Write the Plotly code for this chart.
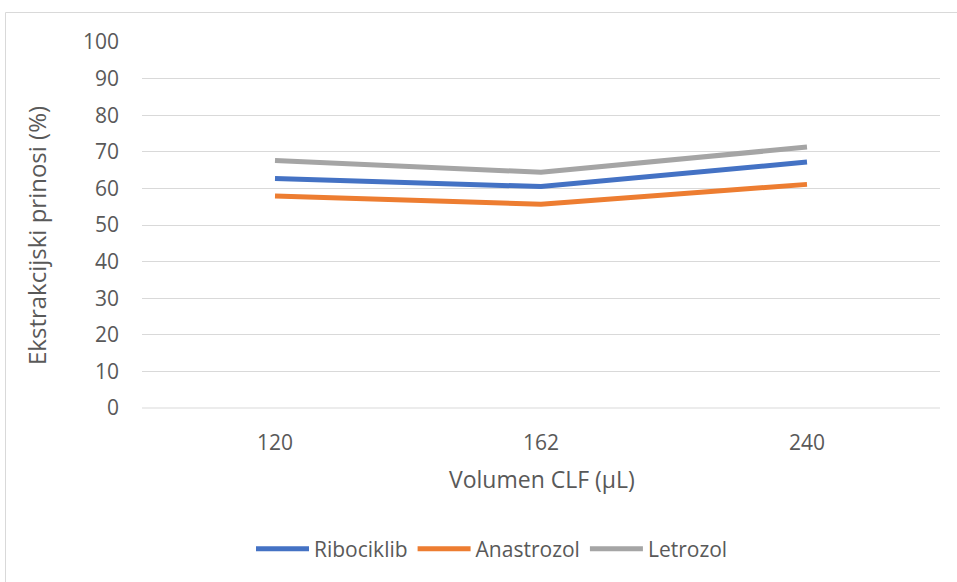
import plotly.graph_objects as go

# Volume of CLF (µL) and extraction yields (%) for each analyte
volumes = ["120", "162", "240"]
ribociklib = [62.7, 60.5, 67.2]
anastrozol = [57.9, 55.7, 61.1]
letrozol = [67.6, 64.4, 71.3]

W, H = 957, 582
L, R, T, B = 142, 17, 42, 174
PW, PH = W - L - R, H - T - B


def px_x(p):
    return (p - L) / PW


def px_y(p):
    return (H - B - p) / PH


FONT = "Open Sans"
TXT = "rgb(89,89,89)"

fig = go.Figure()
for name, vals, col in [
    ("Ribociklib", ribociklib, "#4472C4"),
    ("Anastrozol", anastrozol, "#ED7D31"),
    ("Letrozol", letrozol, "#A5A5A5"),
]:
    fig.add_trace(go.Scatter(
        x=volumes, y=vals, name=name, mode="lines",
        line=dict(color=col, width=5, shape="linear"),
    ))

fig.update_layout(
    width=W, height=H,
    margin=dict(l=L, r=R, t=T, b=B),
    paper_bgcolor="white", plot_bgcolor="white",
    font=dict(family=FONT, size=20, color=TXT),
    showlegend=True,
    legend=dict(
        orientation="h", x=px_x(492), y=px_y(549),
        xanchor="center", yanchor="middle",
        font=dict(family=FONT, size=21, color=TXT),
        itemwidth=53, tracegroupgap=0,
    ),
    xaxis=dict(
        type="category", range=[-0.5, 2.5],
        showgrid=False, zeroline=False, showline=False,
        ticks="", ticklabelstandoff=20,
        tickfont=dict(family=FONT, size=21, color=TXT),
    ),
    yaxis=dict(
        range=[0, 100], dtick=10, tick0=0,
        showgrid=True, gridcolor="rgb(217,217,217)", gridwidth=1,
        zeroline=False, showline=False,
        ticks="", ticklabelstandoff=22,
        tickfont=dict(family=FONT, size=21, color=TXT),
    ),
    annotations=[
        dict(text="Volumen CLF (µL)", xref="paper", yref="paper",
             x=px_x(542), y=px_y(479), xanchor="center", yanchor="middle",
             showarrow=False, font=dict(family=FONT, size=23, color=TXT)),
        dict(text="Ekstrakcijski prinosi (%)", xref="paper", yref="paper",
             x=px_x(37), y=px_y(236), xanchor="center", yanchor="middle",
             textangle=-90, showarrow=False,
             font=dict(family=FONT, size=24, color=TXT)),
    ],
    shapes=[
        dict(type="line", xref="paper", yref="paper", layer="below",
             x0=0, x1=1, y0=0, y1=0,
             line=dict(color="rgb(217,217,217)", width=1)),
        dict(type="rect", xref="paper", yref="paper", layer="below",
             x0=px_x(5.5), x1=px_x(960), y0=px_y(590), y1=px_y(12.5),
             line=dict(color="rgb(217,217,217)", width=1)),
    ],
)

fig.write_html("out.html")
